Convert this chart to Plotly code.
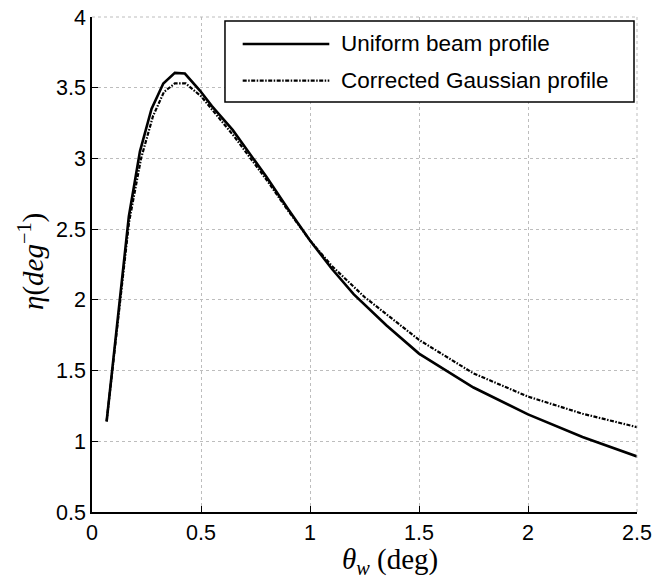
import plotly.graph_objects as go

# Uniform beam profile
x_uniform = [0.067, 0.10, 0.128, 0.169, 0.22, 0.273, 0.327, 0.38, 0.426, 0.495, 0.55, 0.646,
             0.8, 0.9, 1.0, 1.1, 1.2, 1.35, 1.5, 1.75, 2.0, 2.25, 2.5]
y_uniform = [1.14, 1.6, 2.0, 2.59, 3.05, 3.35, 3.53, 3.605, 3.60, 3.48, 3.37, 3.2,
             2.87, 2.64, 2.42, 2.22, 2.04, 1.82, 1.62, 1.38, 1.19, 1.03, 0.893]

# Corrected Gaussian profile
x_gauss = [0.067, 0.10, 0.13, 0.17, 0.225, 0.28, 0.33, 0.38, 0.43, 0.5, 0.65, 0.8,
           0.9, 1.0, 1.1, 1.25, 1.5, 1.75, 2.0, 2.25, 2.5]
y_gauss = [1.14, 1.58, 1.98, 2.55, 3.0, 3.3, 3.47, 3.53, 3.53, 3.44, 3.16, 2.85,
           2.63, 2.42, 2.24, 2.02, 1.717, 1.48, 1.316, 1.195, 1.10]

series_names = ["Uniform beam profile", "Corrected Gaussian profile"]

x_ticks = [0, 0.5, 1, 1.5, 2, 2.5]
x_tick_labels = ["0", "0.5", "1", "1.5", "2", "2.5"]
y_ticks = [0.5, 1, 1.5, 2, 2.5, 3, 3.5, 4]
y_tick_labels = ["0.5", "1", "1.5", "2", "2.5", "3", "3.5", "4"]

SOLID = dict(color="black", width=2.6)
DASHED = dict(color="black", width=2.2, dash="4px,1.5px,1.5px,1.5px")

fig = go.Figure()
fig.add_trace(go.Scatter(x=x_uniform, y=y_uniform, mode="lines",
                         name=series_names[0], line=SOLID, showlegend=False))
fig.add_trace(go.Scatter(x=x_gauss, y=y_gauss, mode="lines",
                         name=series_names[1], line=DASHED, showlegend=False))

tick_font = dict(family="Liberation Sans, Arial, sans-serif", size=21.5, color="black")
axis_common = dict(
    showgrid=True, gridcolor="#bdbdbd", griddash="dot", gridwidth=1,
    showline=True, linecolor="black", linewidth=1.5, mirror=False,
    ticks="inside", ticklen=6, tickcolor="black",
    tickfont=tick_font, zeroline=False, automargin=False,
)

fig.update_xaxes(range=[0, 2.5], tickvals=x_ticks, ticktext=x_tick_labels, **axis_common)
fig.update_yaxes(range=[0.5, 4], tickvals=y_ticks, ticktext=y_tick_labels, **axis_common)

# Dotted grid border on top and right
fig.add_shape(type="line", xref="paper", yref="paper", x0=0, x1=1, y0=1, y1=1,
              line=dict(color="#bdbdbd", width=1, dash="dot"))
fig.add_shape(type="line", xref="paper", yref="paper", x0=1, x1=1, y0=0, y1=1,
              line=dict(color="#bdbdbd", width=1, dash="dot"))

# Legend box (drawn manually for longer line samples)
fig.add_shape(type="rect", xref="paper", yref="paper", x0=0.244, x1=0.9945, y0=0.8283, y1=0.9919,
              line=dict(color="black", width=1.5), fillcolor="white", layer="above")
legend_rows_y = [0.9455, 0.8713]
for name, style, yy in zip(series_names, [SOLID, DASHED], legend_rows_y):
    fig.add_shape(type="line", xref="paper", yref="paper", x0=0.2765, x1=0.4354, y0=yy, y1=yy,
                  line=style, layer="above")
    fig.add_annotation(xref="paper", yref="paper", x=0.4538, y=yy, text=name,
                       xanchor="left", yanchor="middle", showarrow=False,
                       font=dict(family="Liberation Sans, Arial, sans-serif", size=22.5, color="black"))

title_font = dict(family="Liberation Serif, Times New Roman, serif", size=29, color="black")
fig.add_annotation(xref="paper", yref="paper", x=(390 - 92) / 545, y=(512 - 561) / 495,
                   text="<i>θ<sub>w</sub></i> (deg)", showarrow=False,
                   xanchor="center", yanchor="middle", font=title_font)
fig.add_annotation(xref="paper", yref="paper", x=(31 - 92) / 545, y=(512 - 262) / 495,
                   text="<i>η</i>(<i>deg</i><sup>−1</sup>)", showarrow=False, textangle=-90,
                   xanchor="center", yanchor="middle", font=title_font)

fig.update_layout(
    width=656, height=581,
    margin=dict(l=92, r=19, t=17, b=69),
    paper_bgcolor="white", plot_bgcolor="white",
    showlegend=False,
)

fig.write_html("out.html")
